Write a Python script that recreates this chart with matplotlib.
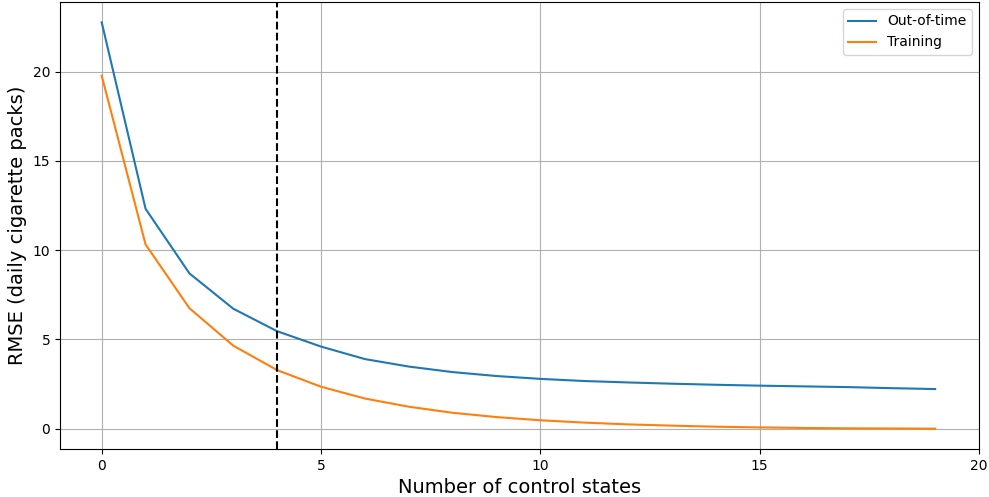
import numpy as np
import matplotlib
matplotlib.use("Agg")
import matplotlib.pyplot as plt

# number of control states in the synthetic control
n_states = list(range(20))

# RMSE values
rmse_out_of_time = [22.77, 12.32, 8.70, 6.72, 5.46, 4.60, 3.90, 3.48, 3.17, 2.95,
                    2.79, 2.67, 2.59, 2.52, 2.46, 2.41, 2.37, 2.33, 2.27, 2.22]
rmse_training = [19.78, 10.32, 6.75, 4.65, 3.28, 2.35, 1.69, 1.23, 0.89, 0.65,
                 0.47, 0.34, 0.24, 0.17, 0.11, 0.07, 0.04, 0.02, 0.01, 0.0]

chosen_k = 4

fig = plt.figure(figsize=(9.89, 4.97), dpi=100)
ax = fig.add_axes([0.0607, 0.0966, 0.9292, 0.8994])

ax.plot(n_states, rmse_out_of_time, label="Out-of-time")
ax.plot(n_states, rmse_training, label="Training")
ax.axvline(chosen_k, color="black", linestyle="--")

ax.set_xlim(-0.95, 20)
ax.set_xticks([0, 5, 10, 15, 20])
ax.set_yticks([0, 5, 10, 15, 20])
ax.grid(True)

ax.set_xlabel("Number of control states", fontsize=14)
ax.set_ylabel("RMSE (daily cigarette packs)", fontsize=14)
ax.legend(loc="upper right")

plt.savefig("out.png", dpi=100)
plt.close()
